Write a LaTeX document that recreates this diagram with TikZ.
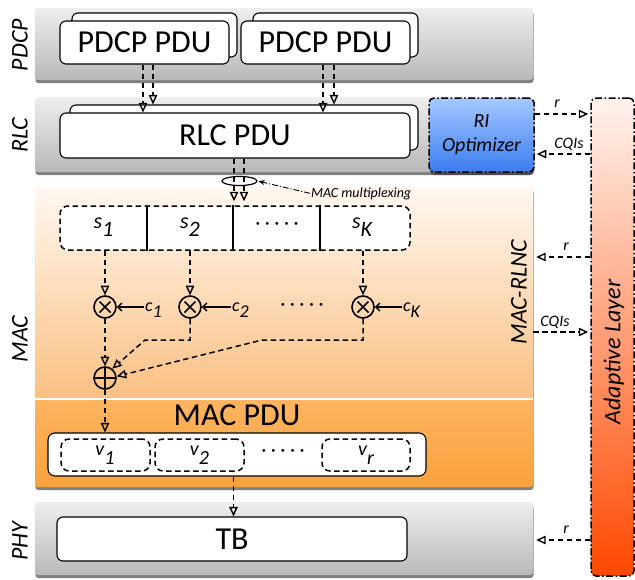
\documentclass[tikz,border=0pt]{standalone}
\usepackage{fontspec}
\setmainfont{Carlito}
\usetikzlibrary{arrows.meta,shadows,calc,shapes.geometric}
\definecolor{bandtop}{HTML}{EEEEEE}
\definecolor{bandbot}{HTML}{B8B8B8}
\definecolor{mactop}{HTML}{FFF8F1}
\definecolor{macbot}{HTML}{F8A854}
\definecolor{maclowtop}{HTML}{FDB460}
\definecolor{maclowbot}{HTML}{F9A23C}
\definecolor{ritop}{HTML}{A6C9FF}
\definecolor{ribot}{HTML}{3A7CF0}
\definecolor{adtop}{HTML}{FFF3ED}
\definecolor{adbot}{HTML}{FF4800}
\newcommand\mysub[3]{#1\raisebox{-#3}{#2}}
\begin{document}
\begin{tikzpicture}[x=1pt,y=-1pt,
  font=\fontsize{20}{24}\selectfont,
  band/.style={rectangle, rounded corners=3pt, inner sep=0pt,
    drop shadow={shadow xshift=0.5pt, shadow yshift=-3pt, opacity=0.5, fill=black}},
  grayband/.style={band, top color=bandtop, bottom color=bandbot},
  pdubox/.style={rectangle, draw=black, fill=white, line width=1.1pt, rounded corners=6pt, inner sep=0pt},
  bigtext/.style={font=\fontsize{32}{36}\selectfont},
  layerlab/.style={rotate=90, font=\fontsize{24}{28}\selectfont\itshape},
  smalllab/.style={font=\fontsize{16}{18}\selectfont\itshape, anchor=base, inner sep=0pt},
  flow/.style={line width=1.5pt, dash pattern=on 5.5pt off 3.5pt,
    -{Triangle[open, width=8.5pt, length=9.5pt, line width=1.4pt]}},
  dashdot/.style={draw=black, line width=1.5pt, dash pattern=on 7pt off 2.5pt on 1.5pt off 2.5pt, rounded corners=5pt, inner sep=0pt},
  dashbox/.style={draw=black, line width=1.5pt, dash pattern=on 5.5pt off 3.5pt, rounded corners=8pt, inner sep=0pt},
  mult/.style={circle, draw=black, line width=1.6pt, minimum size=22pt, inner sep=0pt,
    path picture={\draw[line width=1.6pt]
      ($(path picture bounding box.center)+(-5.5,-5.5)$) -- ($(path picture bounding box.center)+(5.5,5.5)$)
      ($(path picture bounding box.center)+(-5.5,5.5)$) -- ($(path picture bounding box.center)+(5.5,-5.5)$);}},
  plusnode/.style={circle, draw=black, line width=1.6pt, minimum size=22pt, inner sep=0pt,
    path picture={\draw[line width=1.6pt]
      ($(path picture bounding box.center)+(-12,0)$) -- ($(path picture bounding box.center)+(12,0)$)
      ($(path picture bounding box.center)+(0,-12)$) -- ($(path picture bounding box.center)+(0,12)$);}},
  slab/.style={font=\fontsize{22}{24}\selectfont\itshape, anchor=base, inner sep=1pt},
  clab/.style={font=\fontsize{18}{20}\selectfont\itshape, anchor=base west, inner sep=1pt},
  vlab/.style={font=\fontsize{20}{22}\selectfont\itshape, anchor=base, inner sep=1pt},
  carrow/.style={line width=1.5pt, -{Straight Barb[length=4pt, width=8pt, line width=1.4pt]}}
]
\useasboundingbox (0,0) rectangle (635,579);

% ---------- layer bands ----------
\node[grayband, minimum width=498pt, minimum height=72pt] (pdcpband) at (284,44) {};
\node[grayband, minimum width=498pt, minimum height=75pt] (rlcband) at (284,134.5) {};
\node[band, top color=mactop, bottom color=macbot, minimum width=498pt, minimum height=300pt] (macband) at (284,337) {};
\node[rectangle, rounded corners=3pt, inner sep=0pt, top color=maclowtop, bottom color=maclowbot,
      minimum width=498pt, minimum height=88pt] (maclow) at (284,443) {};
\draw[white, line width=1.8pt] (maclow.north west) -- (maclow.north east);
\node[grayband, minimum width=498pt, minimum height=73pt] (phyband) at (284,538.5) {};

% ---------- layer labels ----------
\node[layerlab] (lpdcp) at (20,45) {PDCP};
\node[layerlab] (lrlc) at (20,135) {RLC};
\node[layerlab] (lmac) at (20,339) {MAC};
\node[layerlab] (lphy) at (20,541) {PHY};
\node[layerlab] (lrlnc) at (519,292) {MAC-RLNC};

% ---------- PDCP ----------
\node[pdubox, minimum width=165pt, minimum height=44pt] (pdcp1b) at (154.5,35) {};
\node[pdubox, bigtext, minimum width=169pt, minimum height=43pt] (pdcp1) at (144.5,42.5) {PDCP PDU};
\node[pdubox, minimum width=165pt, minimum height=44pt] (pdcp2b) at (335.5,35) {};
\node[pdubox, bigtext, minimum width=169pt, minimum height=43pt] (pdcp2) at (325.5,42.5) {PDCP PDU};

% ---------- RLC ----------
\node[pdubox, minimum width=348pt, minimum height=45pt] (rlcb) at (244,127.5) {};
\node[pdubox, bigtext, minimum width=350pt, minimum height=45pt] (rlc) at (235,135.5) {RLC PDU};

\coordinate (xa1) at (143,0);
\coordinate (xa2) at (153,0);
\coordinate (xb1) at (323,0);
\coordinate (xb2) at (334,0);
\draw[flow] (pdcp1.south -| xa1) -- (rlc.north -| xa1);
\draw[flow] (pdcp1.south -| xa2) -- (rlcb.north -| xa2);
\draw[flow] (pdcp2.south -| xb1) -- (rlc.north -| xb1);
\draw[flow] (pdcp2.south -| xb2) -- (rlcb.north -| xb2);

% ---------- RI optimizer & adaptive layer ----------
\node[dashdot, top color=ritop, bottom color=ribot, minimum width=105pt, minimum height=74pt,
      drop shadow={shadow xshift=0.5pt, shadow yshift=-3pt, opacity=0.4, fill=black},
      align=center, font=\fontsize{20}{24}\selectfont\itshape] (ri) at (481.5,135) {RI\\Optimizer};
\node[dashdot, top color=adtop, bottom color=adbot, minimum width=43pt, minimum height=478pt] (adapt) at (612.5,337) {};
\node[layerlab] (adaptlab) at (614,352) {Adaptive Layer};

% ---------- MAC: s box ----------
\node[dashbox, fill=white, minimum width=350pt, minimum height=44pt] (sbox) at (235,228) {};
\coordinate (d1) at (147,0);
\coordinate (d2) at (233,0);
\coordinate (d3) at (320,0);
\draw[line width=1.2pt] (sbox.north -| d1) -- (sbox.south -| d1);
\draw[line width=1.2pt] (sbox.north -| d2) -- (sbox.south -| d2);
\draw[line width=1.2pt] (sbox.north -| d3) -- (sbox.south -| d3);
\node[slab] (s1) at (103.5,228) {\mysub{s}{1}{8.5pt}};
\node[slab] (s2) at (190,228) {\mysub{s}{2}{8.5pt}};
\node[inner sep=0pt, font=\fontsize{20}{22}\selectfont] (sdots) at (277,226) {· · · · ·};
\node[slab] (sK) at (362,228) {\mysub{s}{K}{8.5pt}};

% multiplexing arrows from RLC
\coordinate (xm1) at (234,0);
\coordinate (xm2) at (244,0);
\draw[flow, shorten >=4pt] (rlc.south -| xm1) -- (sbox.north -| xm1);
\draw[flow, shorten >=4pt] (rlc.south -| xm2) -- (sbox.north -| xm2);
\node[ellipse, draw=black, line width=1.2pt, minimum width=35pt, minimum height=9pt, inner sep=0pt] (muxell) at (239.5,181) {};
\node[font=\fontsize{14}{16}\selectfont\itshape, anchor=base west, inner sep=1pt] (mux) at (310,197) {MAC multiplexing};
\draw[line width=0.9pt, dash pattern=on 6pt off 2pt on 1pt off 2pt, -{Stealth[length=6pt, width=5pt]}, shorten >=1pt]
  (mux.west) -- (muxell.east);

% ---------- multipliers ----------
\node[mult] (m1) at (105,307) {};
\node[mult] (m2) at (190,307) {};
\node[mult] (mK) at (363,307) {};
\node[plusnode] (plus) at (105,378) {};
\draw[flow] (sbox.south -| m1) -- (m1.north);
\draw[flow] (sbox.south -| m2) -- (m2.north);
\draw[flow] (sbox.south -| mK) -- (mK.north);

\node[clab] (c1) at (144,311) {\mysub{c}{1}{6pt}};
\node[clab] (c2) at (231,311) {\mysub{c}{2}{6pt}};
\node[clab] (cK) at (402,311) {\mysub{c}{K}{6pt}};
\draw[carrow] (c1.west |- m1.east) -- (m1.east);
\draw[carrow] (c2.west |- m2.east) -- (m2.east);
\draw[carrow] (cK.west |- mK.east) -- (mK.east);
\node[inner sep=0pt, font=\fontsize{20}{22}\selectfont] (mdots) at (302,307) {· · · · ·};

\coordinate (j2) at (145,340);
\coordinate (jK) at (262,340);
\draw[flow] (m1.south) -- (plus.north);
\draw[flow] (m2.south) |- (j2) -- (plus.52);
\draw[flow] (mK.south) |- (jK) -- (plus.8);

% ---------- MAC PDU ----------
\node[bigtext, anchor=base, inner sep=0pt] (macpdutxt) at (237,425) {MAC PDU};
\node[pdubox, rounded corners=7pt, minimum width=378pt, minimum height=43pt] (macpdu) at (237,454.5) {};
\node[dashbox, minimum width=89pt, minimum height=32pt] (v1) at (105.5,455) {};
\node[dashbox, minimum width=89pt, minimum height=32pt] (v2) at (199.5,455) {};
\node[dashbox, minimum width=88pt, minimum height=32pt] (vr) at (366,455) {};
\node[vlab] (v1t) at (105,455) {\mysub{v}{1}{9pt}};
\node[vlab] (v2t) at (199.5,455) {\mysub{v}{2}{9pt}};
\node[vlab] (vrt) at (366,455) {\mysub{v}{r}{9pt}};
\node[inner sep=0pt, font=\fontsize{20}{22}\selectfont] (vdots) at (283,453) {· · · · ·};
\draw[flow] (plus.south) -- (plus.south |- macpdu.north);

% ---------- PHY ----------
\node[pdubox, bigtext, minimum width=350pt, minimum height=44pt] (tb) at (232,539) {TB};
\coordinate (xt) at (233.5,0);
\draw[flow] (macpdu.south -| xt) -- (tb.north -| xt);

% ---------- side signalling ----------
\coordinate (y1) at (0,114);
\coordinate (y2) at (0,154);
\coordinate (y3) at (0,257);
\coordinate (y4) at (0,332);
\coordinate (y5) at (0,540);
\draw[flow, shorten >=2pt] (ri.east |- y1) -- (adapt.west |- y1);
\node[smalllab] (r1) at (557,107) {r};
\draw[flow, shorten >=2pt] (adapt.west |- y2) -- (ri.east |- y2);
\node[smalllab] (q1) at (569,148) {CQIs};
\draw[flow, shorten >=3pt] (adapt.west |- y3) -- (macband.east |- y3);
\node[smalllab] (r2) at (566,250) {r};
\draw[flow, shorten >=2pt] (macband.east |- y4) -- (adapt.west |- y4);
\node[smalllab] (q2) at (555,326) {CQIs};
\draw[flow, shorten >=3pt] (adapt.west |- y5) -- (phyband.east |- y5);
\node[smalllab] (r3) at (566,533) {r};
\end{tikzpicture}
\end{document}
